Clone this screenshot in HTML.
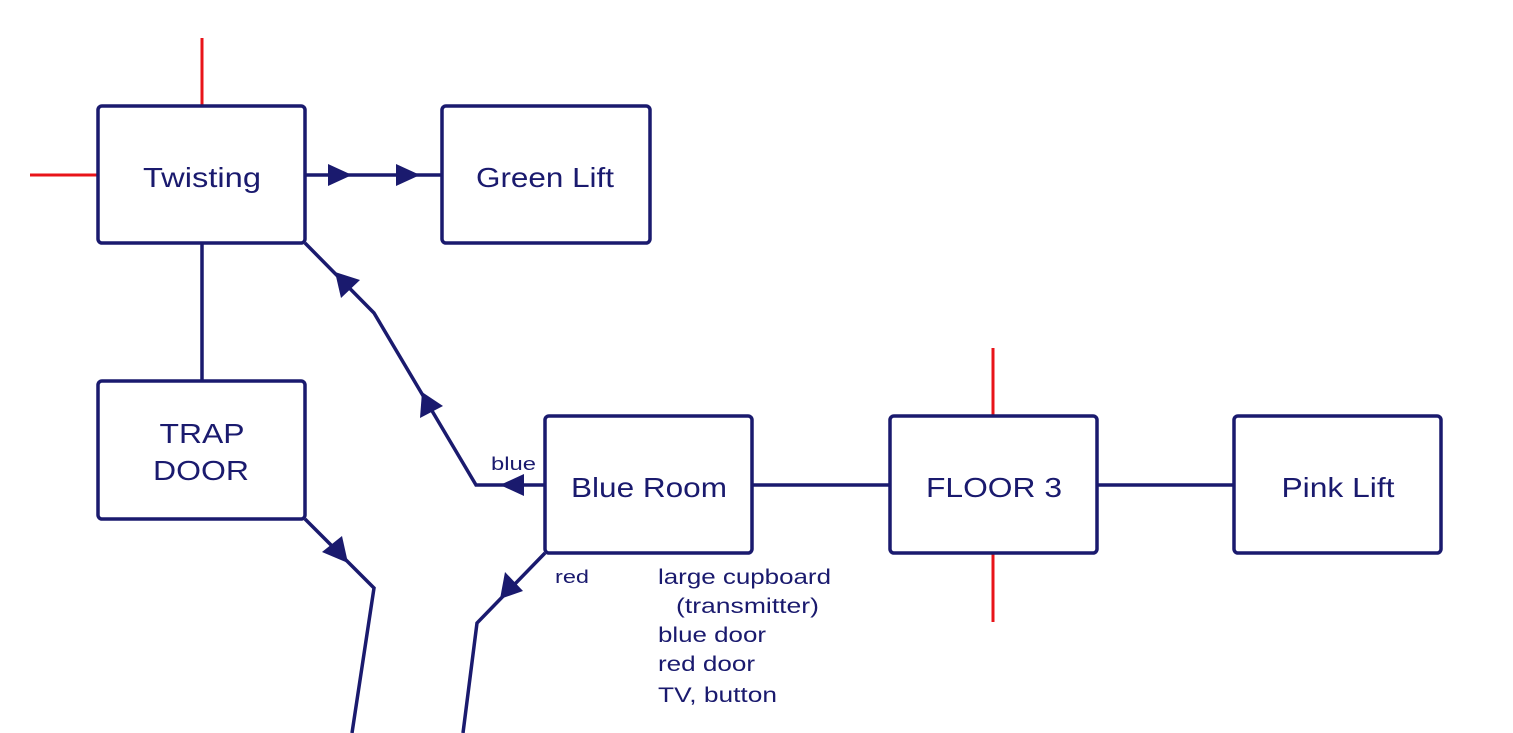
<!DOCTYPE html>
<html><head><style>body{margin:0;background:#fff}svg{display:block}text{font-family:"Liberation Sans",sans-serif;fill:#1a1a6e}</style></head>
<body>
<svg width="1513" height="733" viewBox="0 0 1513 733">
<g stroke="#e8141a" stroke-width="3">
<line x1="202" y1="38" x2="202" y2="106"/>
<line x1="30" y1="175" x2="98" y2="175"/>
<line x1="993" y1="348" x2="993" y2="416"/>
<line x1="993" y1="553" x2="993" y2="622"/>
</g>
<g stroke="#1a1a6e" stroke-width="3.5" fill="none">
<rect x="98" y="106" width="207" height="137" rx="4"/>
<rect x="442" y="106" width="208" height="137" rx="4"/>
<rect x="98" y="381" width="207" height="138" rx="4"/>
<rect x="545" y="416" width="207" height="137" rx="4"/>
<rect x="890" y="416" width="207" height="137" rx="4"/>
<rect x="1234" y="416" width="207" height="137" rx="4"/>
<line x1="305" y1="175" x2="442" y2="175"/>
<line x1="202" y1="243" x2="202" y2="381"/>
<line x1="752" y1="485" x2="890" y2="485"/>
<line x1="1097" y1="485" x2="1234" y2="485"/>
<polyline points="305,243 374,313 476,485 545,485"/>
<polyline points="305,519 374,588 352,733"/>
<polyline points="545,553 477,623 463,733"/>
</g>
<g fill="#1a1a6e">
<polygon points="352,175 328,164 328,186"/>
<polygon points="420,175 396,164 396,186"/>
<polygon points="500,485 524,474 524,496"/>
<polygon points="335,272 360,280 341,298"/>
<polygon points="422,392 443,406 420,418"/>
<polygon points="348,563 322,552 342,536"/>
<polygon points="500,599 523,591 505,572"/>
</g>
<g font-size="28" text-anchor="middle">
<text x="202" y="187" textLength="118" lengthAdjust="spacingAndGlyphs">Twisting</text>
<text x="545" y="187" textLength="138" lengthAdjust="spacingAndGlyphs">Green Lift</text>
<text x="202" y="443" textLength="85" lengthAdjust="spacingAndGlyphs">TRAP</text>
<text x="201" y="480" textLength="96" lengthAdjust="spacingAndGlyphs">DOOR</text>
<text x="649" y="497" textLength="156" lengthAdjust="spacingAndGlyphs">Blue Room</text>
<text x="994" y="497" textLength="136" lengthAdjust="spacingAndGlyphs">FLOOR 3</text>
<text x="1338" y="497" textLength="113" lengthAdjust="spacingAndGlyphs">Pink Lift</text>
</g>
<text x="491" y="470" font-size="18" textLength="45" lengthAdjust="spacingAndGlyphs">blue</text>
<text x="555" y="583" font-size="18" textLength="34" lengthAdjust="spacingAndGlyphs">red</text>
<g font-size="21">
<text x="658" y="584" textLength="173" lengthAdjust="spacingAndGlyphs">large cupboard</text>
<text x="676" y="613" textLength="143" lengthAdjust="spacingAndGlyphs">(transmitter)</text>
<text x="658" y="642" textLength="108" lengthAdjust="spacingAndGlyphs">blue door</text>
<text x="658" y="671" textLength="97" lengthAdjust="spacingAndGlyphs">red door</text>
<text x="658" y="702" textLength="119" lengthAdjust="spacingAndGlyphs">TV, button</text>
</g>
</svg>
</body></html>
